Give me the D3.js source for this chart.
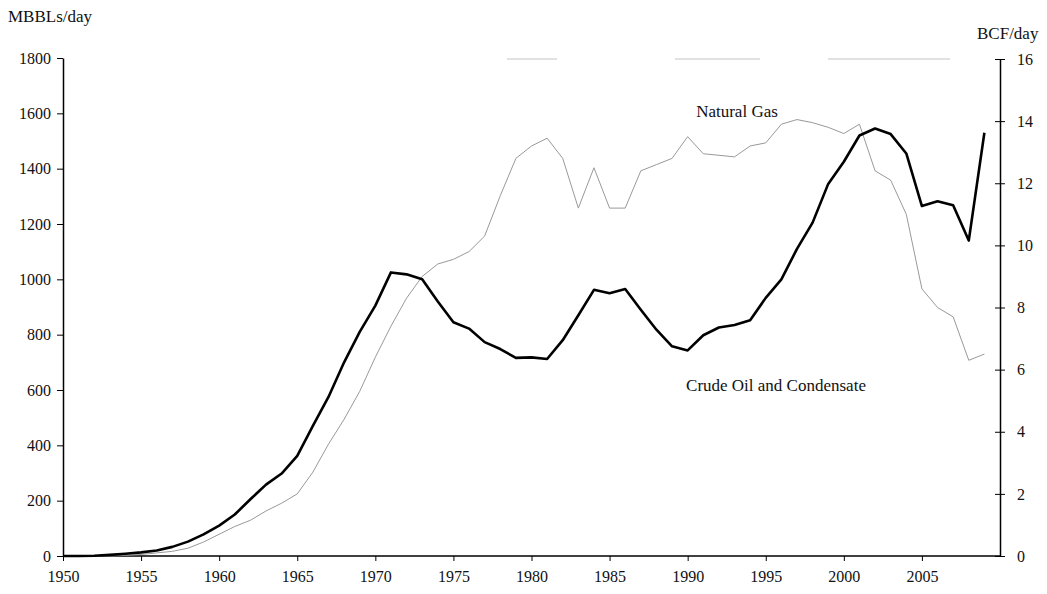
<!DOCTYPE html>
<html>
<head>
<meta charset="utf-8">
<script src="https://cdn.jsdelivr.net/npm/d3@7"></script>
<style>
  html, body { margin: 0; padding: 0; background: #fff; }
  svg { display: block; font-family: "Liberation Serif", "Times New Roman", serif; }
</style>
</head>
<body>
<svg id="chart" width="1047" height="594"></svg>
<script>
const years = d3.range(1950, 2010);
const oil = [0,0,1,4,8,13,20,33,52,78,
  110,150,205,258,298,362,470,575,700,810,
  905,1025,1018,1000,920,845,822,773,748,716,
  718,712,780,870,962,950,965,890,818,758,
  743,798,826,835,852,933,1000,1110,1205,1345,
  1425,1520,1545,1525,1455,1265,1282,1268,1140,1530];
const gas = [0,0,0,0,0.02,0.05,0.1,0.15,0.25,0.45,
  0.7,0.95,1.15,1.45,1.7,2.0,2.7,3.6,4.4,5.3,
  6.4,7.4,8.3,9.0,9.4,9.55,9.8,10.3,11.6,12.8,
  13.2,13.45,12.8,11.2,12.5,11.2,11.2,12.4,12.6,12.8,
  13.5,12.95,12.9,12.85,13.2,13.3,13.9,14.05,13.95,13.8,
  13.6,13.9,12.4,12.1,11.0,8.6,8.0,7.7,6.3,6.5];
const xTicks = d3.range(1950, 2006, 5);
const leftTicks = d3.range(0, 1801, 200);
const rightTicks = d3.range(0, 17, 2);

const svg = d3.select("#chart");
const x = d3.scaleLinear().domain([1950, 2010]).range([63, 1000]);
const yL = d3.scaleLinear().domain([0, 1800]).range([556, 58]);
const yR = d3.scaleLinear().domain([0, 16]).range([556, 59]);

// faint frame remnants (top)
svg.append("line").attr("x1", x(1950)).attr("x2", x(2010))
  .attr("y1", yR(16)).attr("y2", yR(16))
  .attr("stroke", "#c4c4c4").attr("stroke-width", 1)
  .attr("stroke-dasharray", "0,444,50,118,85,68,122,200");

// axes
const fontSize = "16px";
const gx = svg.append("g").attr("transform", `translate(0,${yL(0)})`)
  .call(d3.axisBottom(x).tickValues(xTicks).tickFormat(d3.format("d")).tickSize(5).tickSizeOuter(0));
gx.select(".domain").attr("stroke", "#000").attr("stroke-width", 1.5)
  .attr("d", `M${x(1950)},0H${x(2010)}`);
gx.selectAll("text").attr("font-size", fontSize).attr("dy", "1.1em")
  .attr("font-family", "Liberation Serif").attr("fill", "#111");

const gl = svg.append("g").attr("transform", `translate(${x(1950)},0)`)
  .call(d3.axisLeft(yL).tickValues(leftTicks).tickFormat(d3.format("d")).tickSize(6).tickSizeOuter(0));
gl.select(".domain").attr("stroke", "#000").attr("stroke-width", 1.5);
gl.selectAll("text").attr("font-size", fontSize).attr("x", -12)
  .attr("font-family", "Liberation Serif").attr("fill", "#111");

const gr = svg.append("g").attr("transform", `translate(${x(2010)},0)`)
  .call(d3.axisRight(yR).tickValues(rightTicks).tickFormat(d3.format("d")).tickSize(5).tickSizeOuter(0));
gr.select(".domain").attr("stroke", "#000").attr("stroke-width", 1.5);
gr.selectAll(".tick line").attr("x1", -5).attr("x2", 5);
gr.selectAll("text").attr("font-size", fontSize).attr("x", 17)
  .attr("font-family", "Liberation Serif").attr("fill", "#111");

// lines
const gasLine = d3.line().x((d, i) => x(years[i])).y(d => yR(d));
svg.append("path").datum(gas).attr("d", gasLine)
  .attr("fill", "none").attr("stroke", "#999").attr("stroke-width", 1)
  .attr("stroke-linejoin", "round");

const oilLine = d3.line().x((d, i) => x(years[i])).y(d => yL(d));
svg.append("path").datum(oil).attr("d", oilLine)
  .attr("fill", "none").attr("stroke", "#000").attr("stroke-width", 2.6)
  .attr("stroke-linejoin", "round");

// titles / labels
svg.append("text").attr("x", 8).attr("y", 22).attr("font-size", "17px").attr("fill", "#111").text("MBBLs/day");
svg.append("text").attr("x", 977).attr("y", 39).attr("font-size", "17px").attr("fill", "#111").text("BCF/day");
svg.append("text").attr("x", 737).attr("y", 117).attr("text-anchor", "middle").attr("font-size", "17px").attr("fill", "#111").text("Natural Gas");
svg.append("text").attr("x", 776).attr("y", 391).attr("text-anchor", "middle").attr("font-size", "17px").attr("fill", "#111").text("Crude Oil and Condensate");
</script>
</body>
</html>
